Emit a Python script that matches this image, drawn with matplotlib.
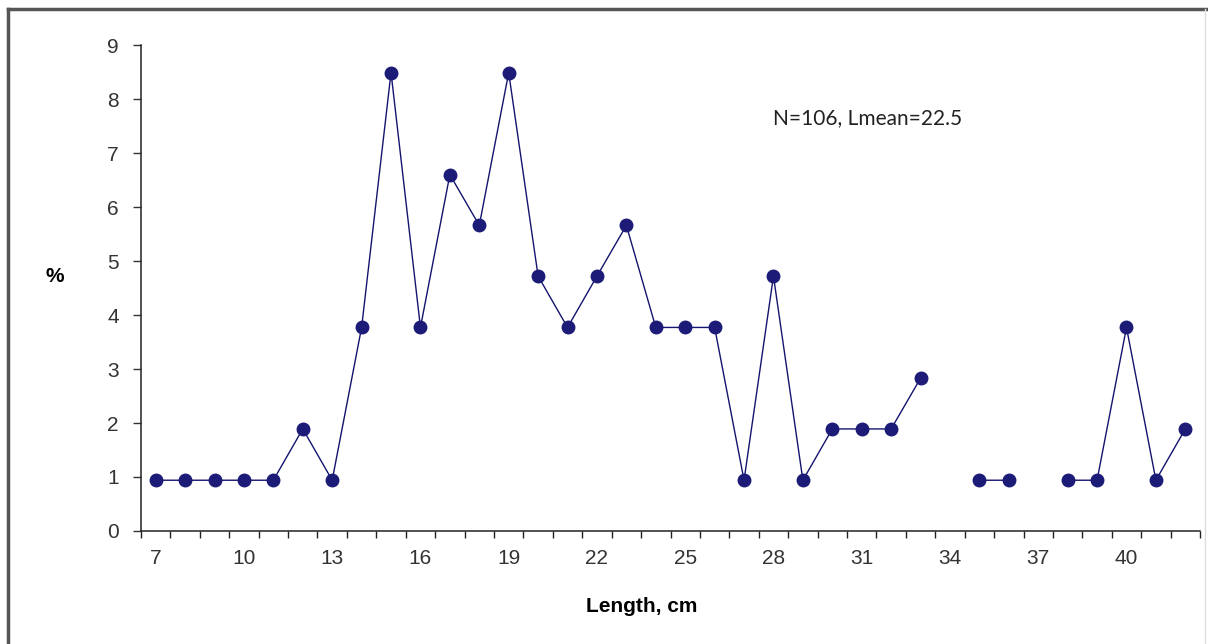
import numpy as np
import matplotlib.pyplot as plt
from matplotlib.lines import Line2D

# Length classes (cm) and share of fish in each class (%), N = 106
lengths = list(range(7, 43))
percent = [0.94, 0.94, 0.94, 0.94, 0.94, 1.89, 0.94, 3.77, 8.49, 3.77,
           6.60, 5.66, 8.49, 4.72, 3.77, 4.72, 5.66, 3.77, 3.77, 3.77,
           0.94, 4.72, 0.94, 1.89, 1.89, 1.89, 2.83, np.nan, 0.94, 0.94,
           np.nan, 0.94, 0.94, 3.77, 0.94, 1.89]
x_labels = [str(v) for v in range(7, 41, 3)]
y_ticks = list(range(0, 10))
note = "N=106, Lmean=22.5"

plt.rcParams['font.family'] = ['Liberation Sans', 'DejaVu Sans']

fig = plt.figure(figsize=(12.08, 6.44), dpi=100)
ax = fig.add_axes([0.1167, 0.1755, 0.8767, 0.7545])

navy = '#14146e'
ax.plot(lengths, percent, color=navy, lw=1.0, marker='o', ms=9,
        mfc='#1c1c78', mec='#1c1c78', zorder=3)

ax.set_xlim(6.5, 42.5)
ax.set_ylim(0, 9)

# category-style x axis: ticks on class boundaries, labels every third class
ax.set_xticks([int(s) for s in x_labels])
ax.set_xticklabels(x_labels)
ax.set_xticks(np.arange(6.5, 43.0, 1.0), minor=True)
ax.tick_params(axis='x', which='major', length=0, pad=13, labelsize=15,
               colors='#333333')
ax.tick_params(axis='x', which='minor', length=5, width=1, direction='out',
               color='#222222')
ax.set_yticks(y_ticks)
ax.tick_params(axis='y', length=6, width=1, direction='out', pad=10,
               labelsize=15, colors='#333333')

for side in ('top', 'right'):
    ax.spines[side].set_visible(False)
for side in ('left', 'bottom'):
    ax.spines[side].set_color('#222222')
    ax.spines[side].set_linewidth(1.1)

fig.text(55 / 1208, 1 - 277 / 644, '%', fontsize=15, fontweight='bold',
         ha='center', va='center')
fig.text(642 / 1208, 1 - 606 / 644, 'Length, cm', fontsize=15,
         fontweight='bold', ha='center', va='center')
ax.text(31.2, 7.65, note, fontsize=15, family=['Lato', 'DejaVu Sans'],
        ha='center', va='center', color='#222222')

# outer chart frame
fig.add_artist(Line2D([8 / 1208, 1206 / 1208], [1 - 9 / 644, 1 - 9 / 644],
                      transform=fig.transFigure, color='#555555', lw=2.5))
fig.add_artist(Line2D([8 / 1208, 8 / 1208], [0, 1 - 9 / 644],
                      transform=fig.transFigure, color='#555555', lw=2.5))
fig.add_artist(Line2D([1205 / 1208, 1205 / 1208], [0, 1 - 9 / 644],
                      transform=fig.transFigure, color='#dddddd', lw=1.0))

fig.savefig('out.png', dpi=100)
